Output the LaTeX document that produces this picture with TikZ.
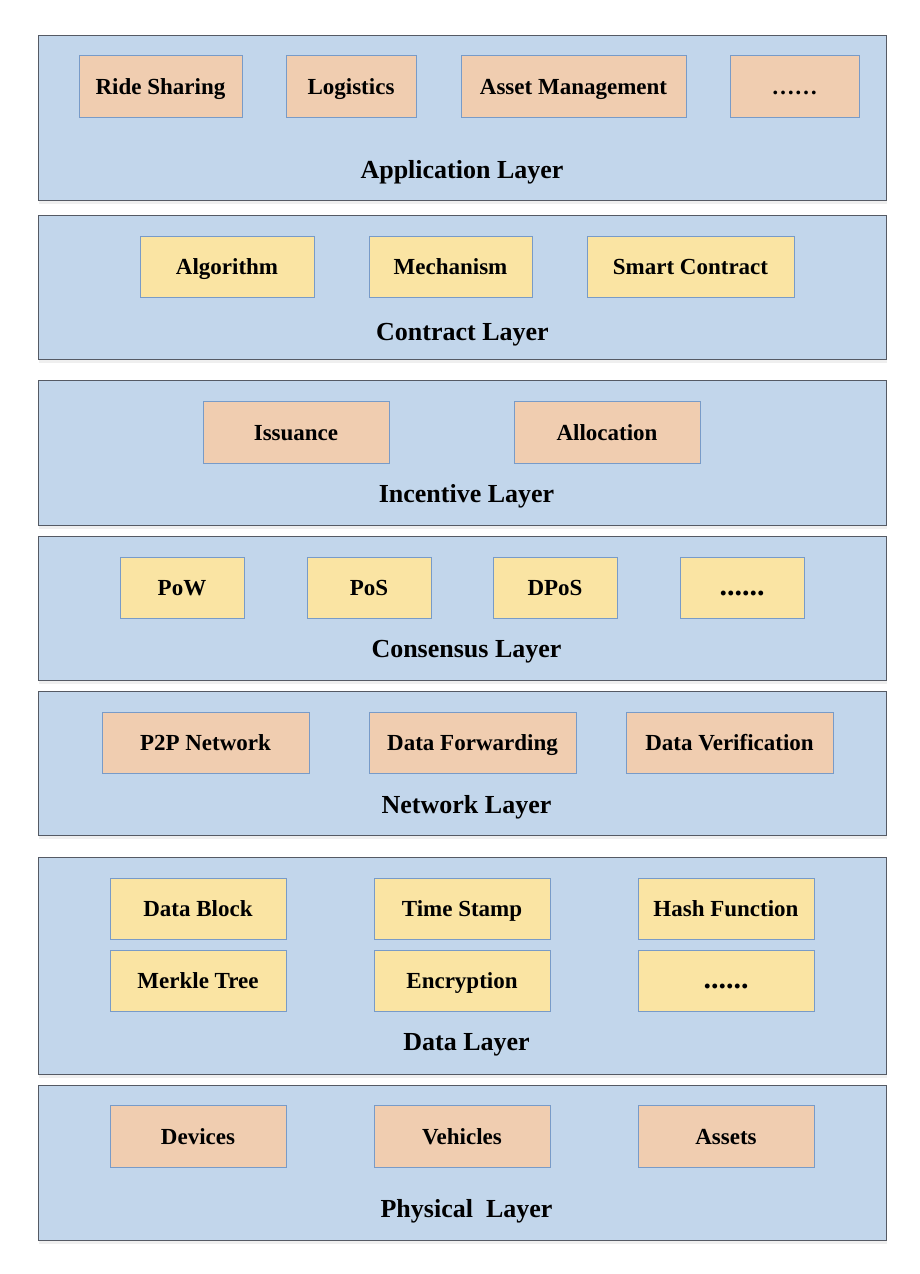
\documentclass[tikz,border=0pt]{standalone}
\usepackage{fontspec}
\setmainfont{Liberation Serif}
\usetikzlibrary{shadows}
\definecolor{layerblue}{RGB}{194,214,235}
\definecolor{layerline}{RGB}{85,90,100}
\definecolor{boxorange}{RGB}{240,205,176}
\definecolor{boxyellow}{RGB}{250,228,163}
\definecolor{boxline}{RGB}{120,155,200}
\newcommand{\moredots}{{\fontsize{30}{30}\selectfont ......}}
\tikzset{
  layer/.style={draw=layerline,line width=1pt,fill=layerblue,
    drop shadow={opacity=0.12,shadow xshift=1pt,shadow yshift=-4pt}},
  obox/.style={draw=boxline,line width=0.9pt,fill=boxorange,
    inner sep=0pt,text height=19pt,text depth=3pt,
    font=\fontsize{23}{27}\selectfont\bfseries},
  ybox/.style={obox,fill=boxyellow},
  layertitle/.style={font=\fontsize{26}{30}\selectfont\bfseries}
}
\begin{document}
\begin{tikzpicture}[x=1pt,y=-1pt]
\useasboundingbox[fill=white] (0,0) rectangle (920,1274);
% layers:
\path[layer] (38,35) rectangle (886,200);
\path[layer] (38,215) rectangle (886,359);
\path[layer] (38,380) rectangle (886,525);
\path[layer] (38,536) rectangle (886,680);
\path[layer] (38,691) rectangle (886,835);
\path[layer] (38,857) rectangle (886,1074);
\path[layer] (38,1085) rectangle (886,1240);
% application layer:
\node[obox,minimum width=163,minimum height=62] (ride) at (160.5,86) {Ride Sharing};
\node[obox,minimum width=130,minimum height=62] (logi) at (351,86) {Logistics};
\node[obox,minimum width=225,minimum height=62] (asset) at (573.5,86) {Asset Management};
\node[obox,minimum width=129,minimum height=62] (appmore) at (794.5,86) {……};
\node[layertitle] (applab) at (462,172) {Application Layer};
% contract layer:
\node[ybox,minimum width=174,minimum height=61] (algo) at (227,266.5) {Algorithm};
\node[ybox,minimum width=163,minimum height=61] (mech) at (450.5,266.5) {Mechanism};
\node[ybox,minimum width=207,minimum height=61] (smart) at (690.5,266.5) {Smart Contract};
\node[layertitle] (conlab) at (462.5,335) {Contract Layer};
% incentive layer:
\node[obox,minimum width=186,minimum height=62] (issue) at (296,432) {Issuance};
\node[obox,minimum width=186,minimum height=62] (alloc) at (607,432) {Allocation};
\node[layertitle] (inclab) at (466.5,496) {Incentive Layer};
% consensus layer:
\node[ybox,minimum width=124,minimum height=61] (pow) at (182,587.5) {PoW};
\node[ybox,minimum width=124,minimum height=61] (pos) at (369,587.5) {PoS};
\node[ybox,minimum width=124,minimum height=61] (dpos) at (555,587.5) {DPoS};
\node[ybox,minimum width=124,minimum height=61] (csmore) at (742,587.5) {\moredots};
\node[layertitle] (cslab) at (466.5,652) {Consensus Layer};
% network layer:
\node[obox,minimum width=207,minimum height=61] (ptp) at (205.5,742.5) {P2P Network};
\node[obox,minimum width=207,minimum height=61] (fwd) at (472.5,742.5) {Data Forwarding};
\node[obox,minimum width=207,minimum height=61] (verif) at (729.5,742.5) {Data Verification};
\node[layertitle] (netlab) at (466.5,807) {Network Layer};
% data layer:
\node[ybox,minimum width=176,minimum height=61] (block) at (198,908.5) {Data Block};
\node[ybox,minimum width=176,minimum height=61] (stamp) at (462,908.5) {Time Stamp};
\node[ybox,minimum width=176,minimum height=61] (hash) at (726,908.5) {Hash Function};
\node[ybox,minimum width=176,minimum height=61] (merkle) at (198,980.5) {Merkle Tree};
\node[ybox,minimum width=176,minimum height=61] (encr) at (462,980.5) {Encryption};
\node[ybox,minimum width=176,minimum height=61] (datamore) at (726,980.5) {\moredots};
\node[layertitle] (datalab) at (466.5,1045) {Data Layer};
% physical layer:
\node[obox,minimum width=176,minimum height=62] (dev) at (198,1136) {Devices};
\node[obox,minimum width=176,minimum height=62] (veh) at (462,1136) {Vehicles};
\node[obox,minimum width=176,minimum height=62] (assets) at (726,1136) {Assets};
\node[layertitle] (phylab) at (466.5,1211) {Physical~~Layer};
\end{tikzpicture}
\end{document}
